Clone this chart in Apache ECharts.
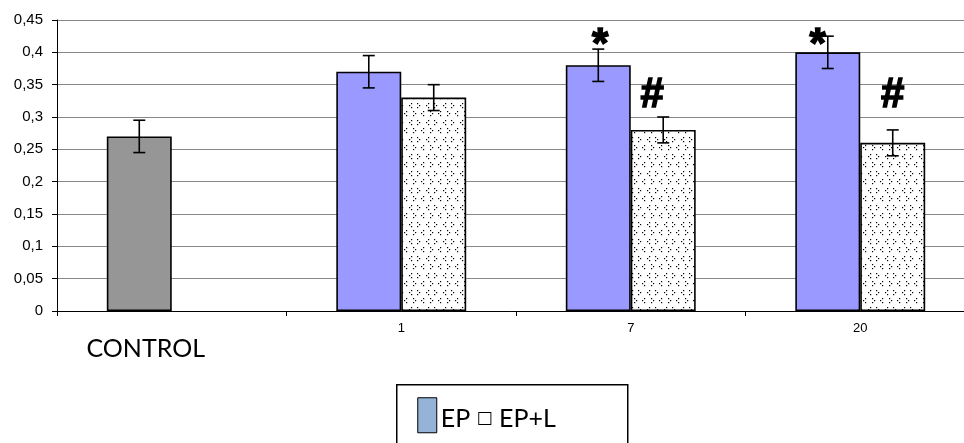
<!DOCTYPE html>
<html>
<head>
<meta charset="utf-8">
<script src="https://cdn.jsdelivr.net/npm/echarts@6/dist/echarts.min.js"></script>
<style>
  html, body { margin: 0; padding: 0; background: #fff; }
  #chart { width: 964px; height: 443px; }
</style>
</head>
<body>
<div id="chart"></div>
<script>
// Groups along the x axis
const categories = ['CONTROL', '1', '7', '20'];

// Mean values per group
const epValues  = [0.27, 0.37, 0.38, 0.40];
const eplValues = [null, 0.33, 0.28, 0.26];

// Half-width of the error bars
const epErrors  = [0.025, 0.025, 0.025, 0.025];
const eplErrors = [null, 0.02, 0.02, 0.02];

// Significance marks: group, series (0 = EP, 1 = EP+L), anchor value, symbol
const markGroups  = ['7', '7', '20', '20'];
const markSeries  = [0, 1, 0, 1];
const markValues  = [0.411, 0.334, 0.411, 0.334];
const markSymbols = ['*', '#', '*', '#'];
const markNudgeX  = [2, -11, -10, 0];

const CATEGORY_GAP = 0.434;

// Dotted fill used for the EP+L bars
function makeDotPattern() {
  const c = document.createElement('canvas');
  c.width = 17; c.height = 17;
  const g = c.getContext('2d');
  g.fillStyle = '#fff';
  g.fillRect(0, 0, 17, 17);
  g.fillStyle = '#000';
  const d = 1.2;
  const lt = (x, y) => { g.fillRect(x + 2, y, d, d); g.fillRect(x, y + 2, d, d); g.fillRect(x + 2, y + 4, d, d); };
  const gt = (x, y) => { g.fillRect(x, y, d, d); g.fillRect(x + 2, y + 2, d, d); g.fillRect(x, y + 4, d, d); };
  lt(1, 1); gt(9, 1);
  gt(5, 9); lt(13, 9);
  return c;
}

const chart = echarts.init(document.getElementById('chart'), null, { renderer: 'canvas' });

function errorData(values, errors) {
  const out = [];
  values.forEach((v, i) => { if (v != null && errors[i] != null) out.push([i, v, errors[i]]); });
  return out;
}

function errorRenderer(side) {
  return function (params, api) {
    const idx = api.value(0), v = api.value(1), e = api.value(2);
    const bandW = api.size([1, 0])[0];
    const barW = bandW * (1 - CATEGORY_GAP) / 2;
    const x = api.coord([idx, v])[0] + side * barW / 2;
    const yTop = api.coord([idx, v + e])[1];
    const yBot = api.coord([idx, v - e])[1];
    const cap = 6;
    const st = { stroke: '#000', lineWidth: 1.6 };
    return {
      type: 'group',
      children: [
        { type: 'line', shape: { x1: x, y1: yTop, x2: x, y2: yBot }, style: st },
        { type: 'line', shape: { x1: x - cap, y1: yTop, x2: x + cap, y2: yTop }, style: st },
        { type: 'line', shape: { x1: x - cap, y1: yBot, x2: x + cap, y2: yBot }, style: st }
      ]
    };
  };
}

const markData = markGroups.map((g, i) => [categories.indexOf(g), markValues[i], markSeries[i], i]);

const option = {
  animation: false,
  backgroundColor: '#fff',
  grid: { left: 57, top: 20, right: -11, bottom: 132, outerBoundsMode: 'none', containLabel: false },
  xAxis: {
    type: 'category',
    data: categories,
    axisLine: { lineStyle: { color: '#000', width: 1 } },
    axisTick: { show: true, length: 5, lineStyle: { color: '#000' } },
    axisLabel: {
      margin: 11,
      color: '#000',
      fontFamily: 'Liberation Sans, Arial',
      fontSize: 13,
      formatter: v => v === 'CONTROL' ? '{c|CONTROL}' : v,
      rich: {
        c: { fontFamily: 'Lato, sans-serif', fontSize: 25, color: '#000', padding: [14, 52, 0, 0] }
      }
    },
    splitLine: { show: false }
  },
  yAxis: {
    type: 'value',
    min: 0, max: 0.45, interval: 0.05,
    axisLine: { show: true, lineStyle: { color: '#000', width: 1 } },
    axisTick: { show: true, length: 5, lineStyle: { color: '#000' } },
    axisLabel: {
      margin: 14,
      color: '#000',
      fontFamily: 'Liberation Sans, Arial',
      fontSize: 15,
      formatter: v => String(parseFloat(v.toFixed(2))).replace('.', ',')
    },
    splitLine: { show: true, lineStyle: { color: '#888', width: 1.2 } }
  },
  series: [
    {
      name: 'EP',
      type: 'bar',
      barGap: '0%',
      barCategoryGap: (CATEGORY_GAP * 100) + '%',
      data: epValues.map((v, i) => i === 0 ? { value: v, itemStyle: { color: '#969696' } } : v),
      itemStyle: { color: '#9999FF', borderColor: '#000', borderWidth: 1.6 }
    },
    {
      name: 'EP+L',
      type: 'bar',
      data: eplValues.map(v => v == null ? '-' : v),
      itemStyle: { color: { image: makeDotPattern(), repeat: 'repeat' }, borderColor: '#000', borderWidth: 1.6 }
    },
    {
      type: 'custom',
      renderItem: errorRenderer(-1),
      data: errorData(epValues, epErrors),
      encode: { x: 0, y: 1 },
      z: 5
    },
    {
      type: 'custom',
      renderItem: errorRenderer(1),
      data: errorData(eplValues, eplErrors),
      encode: { x: 0, y: 1 },
      z: 5
    },
    {
      type: 'custom',
      data: markData,
      encode: { x: 0, y: 1 },
      z: 6,
      renderItem: function (params, api) {
        const idx = api.value(0), v = api.value(1), s = api.value(2), k = api.value(3);
        const bandW = api.size([1, 0])[0];
        const barW = bandW * (1 - CATEGORY_GAP) / 2;
        const p = api.coord([idx, v]);
        const x = p[0] + (s === 0 ? -1 : 1) * barW / 2 + markNudgeX[k];
        return {
          type: 'text',
          x: x, y: p[1],
          style: {
            text: markSymbols[k],
            fontSize: 42,
            fontWeight: 'bold',
            fontFamily: 'Liberation Sans, Arial',
            fill: '#000',
            stroke: '#000',
            lineWidth: 1.5,
            align: 'center',
            verticalAlign: 'middle'
          }
        };
      }
    }
  ],
  graphic: [
    {
      type: 'group',
      left: 396, top: 384,
      children: [
        { type: 'rect', shape: { x: 0, y: 0, width: 231, height: 70 }, style: { fill: '#fff', stroke: '#000', lineWidth: 1.5 } },
        { type: 'rect', shape: { x: 21, y: 13, width: 19, height: 35 }, style: { fill: '#95B3D7', stroke: '#000', lineWidth: 1 } },
        {
          type: 'text', x: 44, y: 34,
          style: {
            text: '{t|EP }{s|\u25A1}{t| EP+L}',
            verticalAlign: 'middle',
            rich: {
              t: { fontFamily: 'Lato, sans-serif', fontSize: 25, fill: '#000' },
              s: { fontFamily: 'DejaVu Sans, sans-serif', fontSize: 17, fill: '#000' }
            }
          }
        }
      ]
    }
  ]
};

chart.setOption(option);
</script>
</body>
</html>
